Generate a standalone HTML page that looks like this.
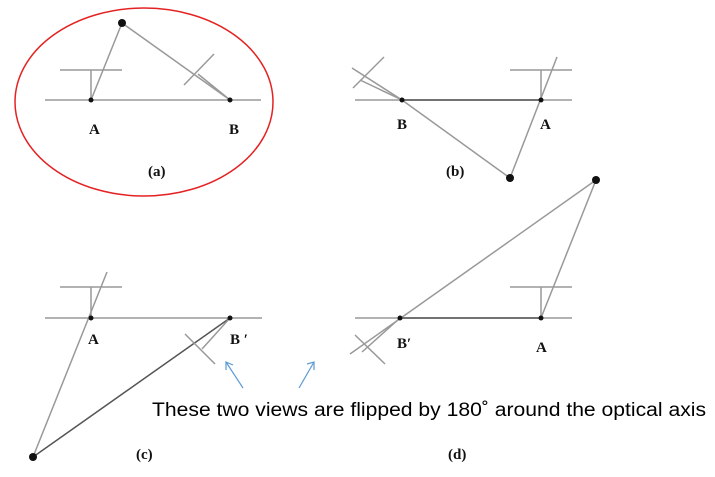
<!DOCTYPE html>
<html><head><meta charset="utf-8"><style>
html,body{margin:0;padding:0;background:#fff;}
svg{display:block;}
.l{stroke:#999;stroke-width:1.5;fill:none}
.d{stroke:#555;stroke-width:1.5;fill:none}
.lab{font-family:"Liberation Serif",serif;font-weight:bold;font-size:15px;fill:#111}
</style></head><body>
<svg width="715" height="477" viewBox="0 0 715 477">
<g>
<ellipse cx="144" cy="102" rx="129" ry="94" fill="none" stroke="#e52222" stroke-width="1.5"/>
<line class="l" x1="45" y1="100" x2="261" y2="100"/>
<line class="l" x1="60" y1="70" x2="122" y2="70"/>
<line class="l" x1="91" y1="70" x2="91" y2="100"/>
<line class="l" x1="91" y1="100" x2="122" y2="23"/>
<line class="l" x1="122" y1="23" x2="230" y2="100"/>
<line class="l" x1="230" y1="100" x2="198" y2="74"/>
<line class="l" x1="184" y1="85" x2="214" y2="54"/>
<circle cx="122" cy="23" r="4" fill="#111"/>
<circle cx="91" cy="100" r="2.5" fill="#111"/>
<circle cx="230" cy="100" r="2.5" fill="#111"/>
<text class="lab" x="89" y="134">A</text>
<text class="lab" x="229" y="134">B</text>
<text class="lab" x="148" y="176">(a)</text>
</g>
<g>
<line class="l" x1="355" y1="100" x2="572" y2="100"/>
<line class="d" x1="402" y1="100" x2="541" y2="100"/>
<line class="l" x1="510" y1="70" x2="572" y2="70"/>
<line class="l" x1="541" y1="70" x2="541" y2="100"/>
<line class="l" x1="510" y1="178" x2="557" y2="57"/>
<line class="l" x1="510" y1="178" x2="402" y2="100"/>
<line class="l" x1="402" y1="100" x2="352" y2="68"/>
<line class="l" x1="402" y1="100" x2="360" y2="80"/>
<line class="l" x1="353" y1="88" x2="384" y2="57"/>
<circle cx="510" cy="178" r="4" fill="#111"/>
<circle cx="402" cy="100" r="2.5" fill="#111"/>
<circle cx="541" cy="100" r="2.5" fill="#111"/>
<text class="lab" x="397" y="129">B</text>
<text class="lab" x="540" y="129">A</text>
<text class="lab" x="446" y="176">(b)</text>
</g>
<g>
<line class="l" x1="45" y1="318" x2="262" y2="318"/>
<line class="l" x1="60" y1="287" x2="122" y2="287"/>
<line class="l" x1="91" y1="287" x2="91" y2="318"/>
<line class="l" x1="33" y1="457" x2="107" y2="272"/>
<line class="d" x1="33" y1="457" x2="230" y2="318"/>
<line class="l" x1="230" y1="318" x2="202" y2="349"/>
<line class="l" x1="185" y1="334" x2="215" y2="364"/>
<circle cx="33" cy="457" r="4" fill="#111"/>
<circle cx="91" cy="318" r="2.5" fill="#111"/>
<circle cx="230" cy="318" r="2.5" fill="#111"/>
<text class="lab" x="88" y="344">A</text>
<text class="lab" x="230" y="344">B &#8242;</text>
<text class="lab" x="136" y="459">(c)</text>
</g>
<g>
<line class="l" x1="355" y1="318" x2="572" y2="318"/>
<line class="d" x1="400" y1="318" x2="541" y2="318"/>
<line class="l" x1="510" y1="287" x2="572" y2="287"/>
<line class="l" x1="541" y1="287" x2="541" y2="318"/>
<line class="l" x1="541" y1="318" x2="596" y2="180"/>
<line class="l" x1="596" y1="180" x2="350" y2="354"/>
<line class="l" x1="400" y1="318" x2="362" y2="352"/>
<line class="l" x1="355" y1="335" x2="385" y2="364"/>
<circle cx="596" cy="180" r="4" fill="#111"/>
<circle cx="400" cy="318" r="2.5" fill="#111"/>
<circle cx="541" cy="318" r="2.5" fill="#111"/>
<text class="lab" x="397" y="348">B&#8242;</text>
<text class="lab" x="536" y="352">A</text>
<text class="lab" x="448" y="459">(d)</text>
</g>
<g stroke="#5b9bd5" stroke-width="1.2" fill="none">
<line x1="243" y1="388" x2="226" y2="362"/>
<polyline points="226,370 226,362 233,365"/>
<line x1="299" y1="388" x2="314" y2="362"/>
<polyline points="307,364 314,362 314,370"/>
</g>
<text x="152" y="416" font-family="Liberation Sans, sans-serif" font-size="19" textLength="554" lengthAdjust="spacingAndGlyphs" fill="#000">These two views are flipped by 180˚ around the optical axis</text>
</svg>
</body></html>
